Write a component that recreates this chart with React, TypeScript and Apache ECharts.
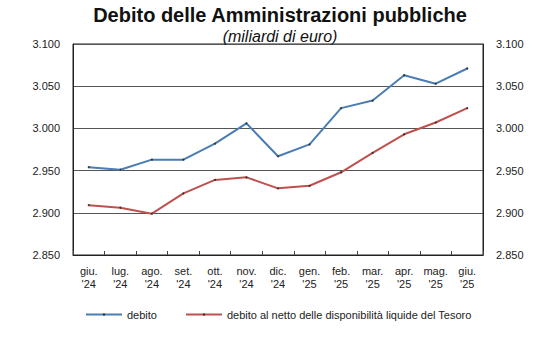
import React, { useEffect, useRef } from "react";
import * as echarts from "echarts";

const categories = ["giu.\n'24", "lug.\n'24", "ago.\n'24", "set.\n'24", "ott.\n'24", "nov.\n'24", "dic.\n'24", "gen.\n'25", "feb.\n'25", "mar.\n'25", "apr.\n'25", "mag.\n'25", "giu.\n'25"];
const debito = [2954, 2951, 2963, 2963, 2982, 3006, 2967, 2981, 3024, 3033, 3063, 3053, 3071];
const debitoNetto = [2909, 2906, 2899, 2923, 2939, 2942, 2929, 2932, 2948, 2971, 2993, 3007, 3024];
const seriesNames = ["debito", "debito al netto delle disponibilità liquide del Tesoro"];
const yMin = 2850;
const yMax = 3100;
const yStep = 50;

const fmt = (v: number) => {
  const s = String(v);
  return s.length > 3 ? s.slice(0, s.length - 3) + "." + s.slice(s.length - 3) : s;
};

export default function App() {
  const ref = useRef<HTMLDivElement>(null);
  useEffect(() => {
    if (!ref.current) return;
    const chart = echarts.init(ref.current, undefined, { renderer: "svg" });
    const font = "'Liberation Sans', Arial, sans-serif";
    const yAxisCommon = {
      type: "value" as const,
      min: yMin,
      max: yMax,
      interval: yStep,
      axisLine: { show: true, lineStyle: { color: "#222", width: 1 } },
      axisTick: { show: false },
      axisLabel: { formatter: fmt, color: "#222", fontSize: 11, fontFamily: font, margin: 13 },
    };
    chart.setOption({
      animation: false,
      backgroundColor: "#fff",
      title: [
        {
          text: "Debito delle Amministrazioni pubbliche",
          left: "center",
          top: 0,
          textStyle: { fontSize: 20, fontWeight: "bold", color: "#111", fontFamily: font },
        },
        {
          text: "(miliardi di euro)",
          left: "center",
          top: 23,
          textStyle: { fontSize: 16, fontStyle: "italic", fontWeight: "normal", color: "#111", fontFamily: font },
        },
      ],
      legend: {
        left: 80,
        top: 304,
        itemWidth: 36,
        itemHeight: 3,
        itemGap: 28,
        textStyle: { fontSize: 11, color: "#222", fontFamily: font },
        data: seriesNames,
      },
      grid: {
        left: 73,
        right: 77,
        top: 44,
        bottom: 95,
        show: true,
        borderColor: "#222",
        borderWidth: 1,
        containLabel: false,
      },
      xAxis: {
        type: "category",
        data: categories,
        boundaryGap: true,
        axisLine: { lineStyle: { color: "#222" } },
        axisTick: { show: true, inside: true, length: 4, lineStyle: { color: "#444" } },
        axisLabel: { color: "#222", fontSize: 11, fontFamily: font, lineHeight: 13, margin: 9, interval: 0 },
      },
      yAxis: [
        {
          ...yAxisCommon,
          position: "left",
          splitLine: { show: true, lineStyle: { color: "#555", width: 1 } },
        },
        {
          ...yAxisCommon,
          position: "right",
          splitLine: { show: false },
        },
      ],
      series: [
        {
          name: seriesNames[0],
          type: "line",
          data: debito,
          symbol: "circle",
          symbolSize: 2,
          itemStyle: { color: "#333" },
          lineStyle: { color: "#4a7db3", width: 2 },
        },
        {
          name: seriesNames[1],
          type: "line",
          data: debitoNetto,
          symbol: "circle",
          symbolSize: 2,
          itemStyle: { color: "#333" },
          lineStyle: { color: "#c0504d", width: 2 },
        },
      ],
    });
    return () => chart.dispose();
  }, []);
  return <div ref={ref} style={{ position: "fixed", left: 0, top: 0, width: 560, height: 350 }} />;
}
